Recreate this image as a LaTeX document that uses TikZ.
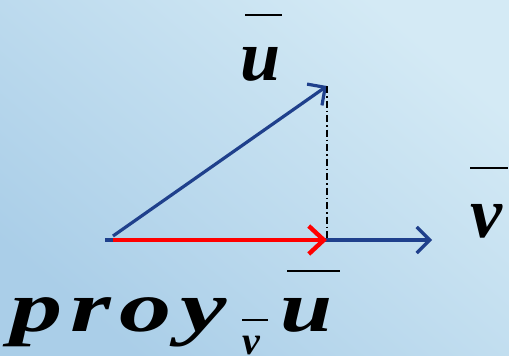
\documentclass[tikz,border=0pt]{standalone}
\usepackage{fontspec}
\newfontfamily\labelfont{Liberation Serif Bold Italic}
\newfontfamily\proyfont[LetterSpace=8]{Liberation Serif Bold Italic}
\usetikzlibrary{arrows.meta,positioning}
\definecolor{bgdark}{RGB}{170,206,232}
\definecolor{bglight}{RGB}{212,234,245}
\definecolor{vecblue}{RGB}{31,64,140}
\tikzset{
  vecarrow/.style={line width=3.2pt, -{Straight Barb[length=13pt,width=26pt,line width=3.2pt]}},
  barline/.style={line width=2.8pt, black},
  letter/.style={inner sep=0pt, font=\fontsize{72}{72}\selectfont\labelfont}
}
\begin{document}
\begin{tikzpicture}[x=1pt,y=-1pt]
  % background
  \shade[top color=bglight, bottom color=bgdark, shading angle=-40] (0,0) rectangle (509,356);
  \useasboundingbox (0,0) rectangle (509,356);
  % points
  \coordinate (O) at (105,240);
  \coordinate (S) at (113,240);
  \coordinate (A) at (113,236);
  \coordinate (U) at (327,86);
  \coordinate (P) at (327,240);
  \coordinate (V) at (432,240);
  % vectors
  \draw[vecarrow, vecblue] (O) -- (V);
  \draw[vecarrow, vecblue] (A) -- (U);
  \draw[vecarrow, red, line width=4.4pt, -{Straight Barb[length=15pt,width=28pt,line width=4.4pt]}] (S) -- (P);
  \draw[black, line width=1.2pt, dash pattern=on 7pt off 3pt on 1.5pt off 3pt] (U) -- (P);
  % labels
  \node[letter, anchor=base west] (ulabel) at (240,80) {u};
  \draw[barline] (245,15) -- (282,15);
  \node[letter, anchor=base west] (vlabel) at (470,237) {v};
  \draw[barline] (470,168) -- (508,168);
  \node[letter, anchor=base west, xscale=1.45, font=\fontsize{72}{72}\selectfont\proyfont] (proylabel) at (10,331) {proy};
  \node[anchor=base west, inner sep=0pt, font=\fontsize{40}{40}\selectfont\labelfont] (sublabel) at (242,354) {v};
  \draw[black, line width=1.8pt] (242,320) -- (268,320);
  \node[letter, anchor=base west, xscale=1.3] (proyu) at (280,331) {u};
  \draw[barline] (287,271) -- (340,271);
\end{tikzpicture}
\end{document}
